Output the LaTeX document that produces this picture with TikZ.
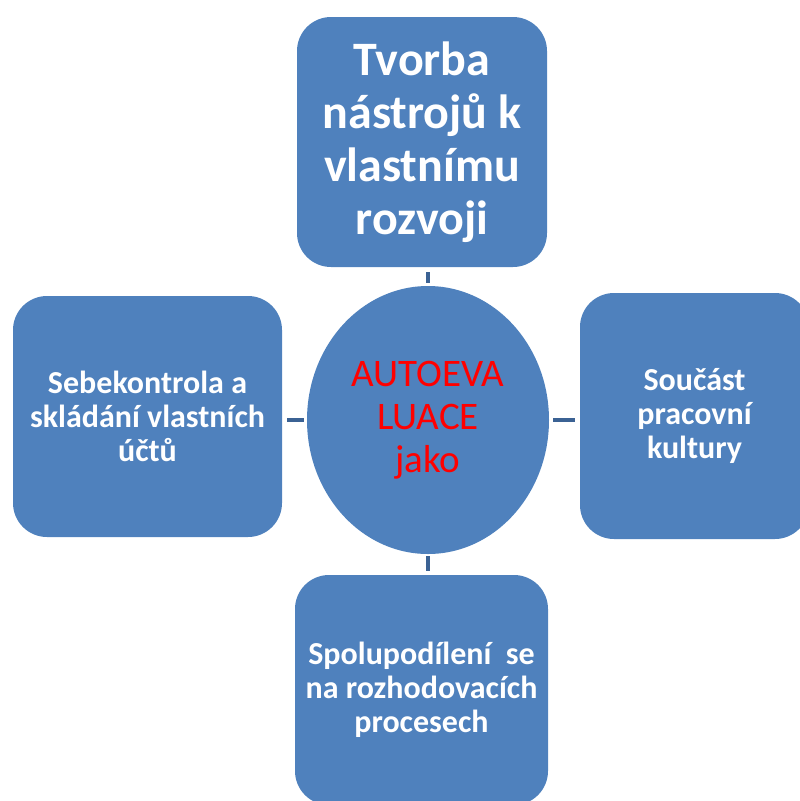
\documentclass[tikz,border=0pt]{standalone}
\usepackage{fontspec}
\setmainfont{Carlito}
\usetikzlibrary{shapes.geometric}
\definecolor{boxblue}{RGB}{79,129,189}
\definecolor{linkblue}{RGB}{59,98,148}
\definecolor{txtred}{RGB}{255,0,0}
\tikzset{
  boxnode/.style={rectangle, rounded corners=34pt, fill=boxblue, draw=none, inner sep=0pt,
    align=center, text=white, font=\bfseries\fontsize{32}{34}\selectfont},
  hubnode/.style={ellipse, fill=boxblue, draw=none, inner sep=0pt, align=center,
    text=txtred, font=\fontsize{39}{43}\selectfont},
  linkline/.style={draw=linkblue, line width=4pt}
}
\begin{document}
\begin{tikzpicture}[x=1pt,y=-1pt]
\useasboundingbox (0,0) rectangle (800,801);
\clip (0,0) rectangle (800,801);
\node[boxnode, minimum width=250pt, minimum height=250pt, font=\bfseries\fontsize{48}{53}\selectfont] (top) at (422,142)
  {Tvorba\\nástrojů k\\vlastnímu\\rozvoji};
\node[boxnode, minimum width=269pt, minimum height=241pt] (left) at (147.5,416.5)
  {Sebekontrola a\\skládání vlastních\\účtů};
\node[boxnode, minimum width=229pt, minimum height=246pt] (right) at (694.5,416)
  {Součást\\pracovní\\kultury};
\node[boxnode, minimum width=253pt, minimum height=230pt] (bottom) at (421.5,690)
  {Spolupodílení\ \ se\\na rozhodovacích\\procesech};
\node[hubnode, minimum width=242pt, minimum height=268pt] (hub) at (428,420)
  {AUTOEVA\\LUACE\\jako};
\draw[linkline, shorten <=5pt, shorten >=3pt] (top.south -| hub.north) -- (hub.north);
\draw[linkline, shorten <=5pt, shorten >=3pt] (left.east |- hub.west) -- (hub.west);
\draw[linkline, shorten <=4pt, shorten >=5pt] (hub.east) -- (right.west |- hub.east);
\draw[linkline, shorten <=2pt, shorten >=4pt] (hub.south) -- (bottom.north -| hub.south);
\end{tikzpicture}
\end{document}
